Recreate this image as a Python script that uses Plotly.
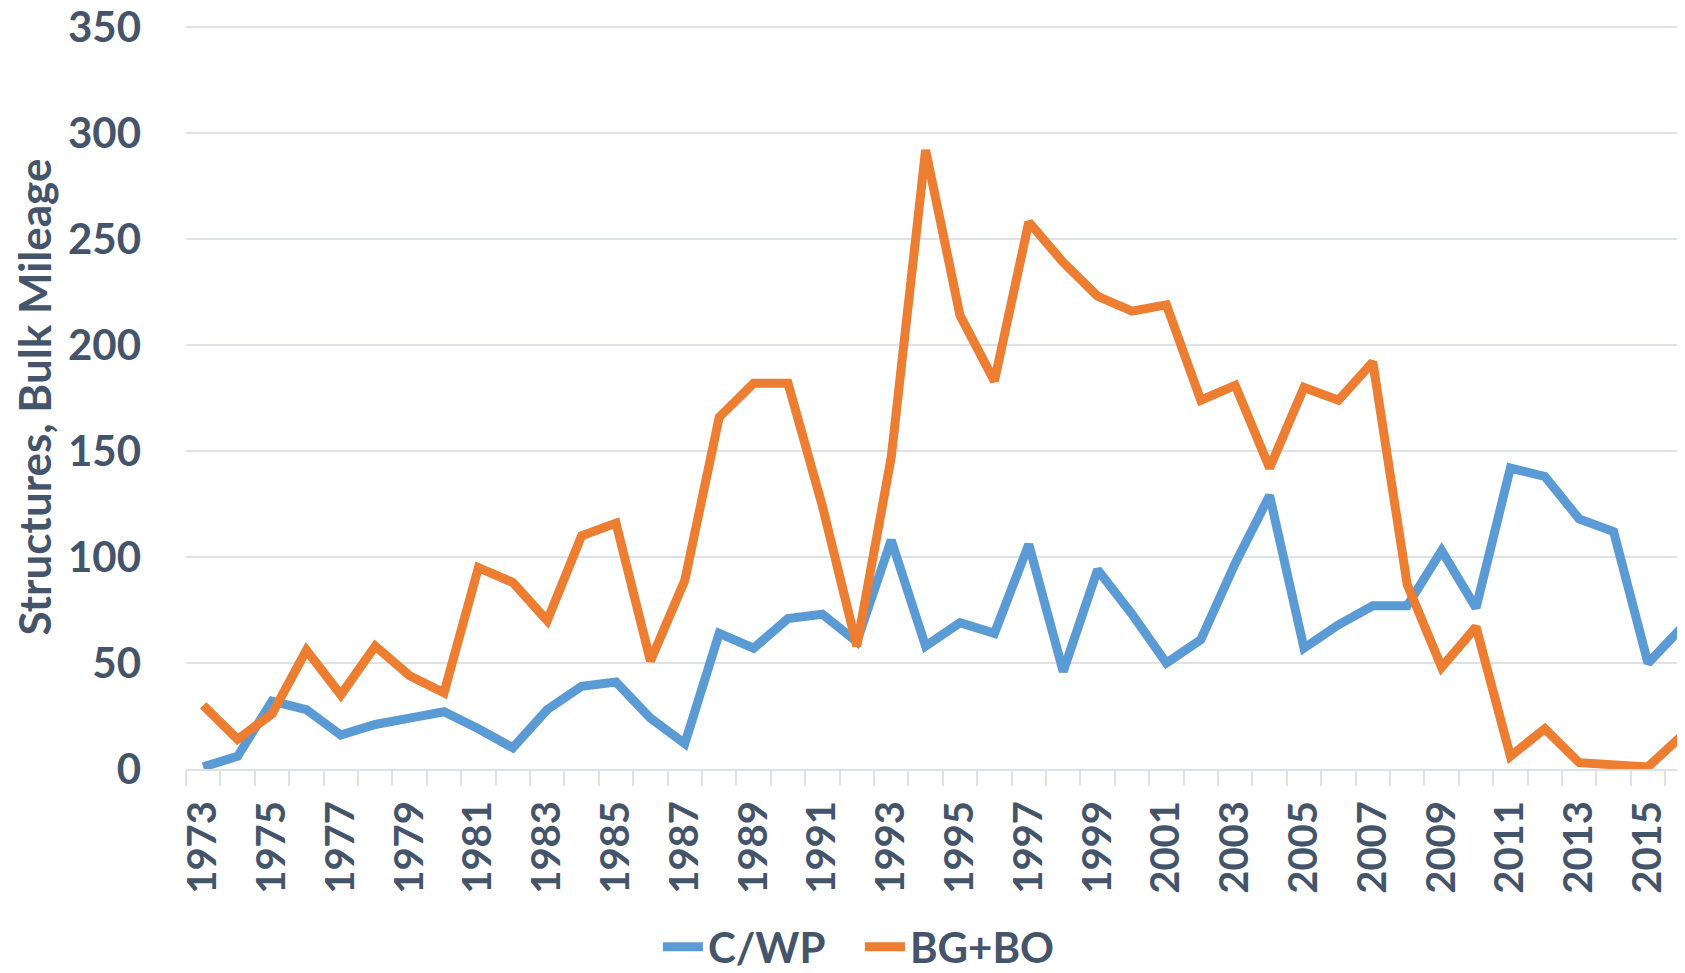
import plotly.graph_objects as go

years = list(range(1973, 2017))
cwp = [1, 6, 32, 28, 16, 21, 24, 27, 19, 10, 28, 39, 41, 24, 12, 64, 57, 71, 73, 60,
       108, 58, 69, 64, 106, 46, 94, 73, 50, 61, 97, 129, 57, 68, 77, 77, 103, 76,
       142, 138, 118, 112, 50, 67]
bgbo = [30, 14, 26, 56, 35, 58, 44, 36, 95, 88, 70, 110, 116, 51, 89, 166, 182, 182,
        124, 58, 147, 292, 214, 183, 258, 239, 223, 216, 219, 174, 181, 142, 180, 174,
        192, 87, 48, 67, 6, 19, 3, 2, 1, 16]
tick_years = list(range(1973, 2016, 2))
y_ticks = [0, 50, 100, 150, 200, 250, 300, 350]

TXT = "#44546A"
GRID = "#DEE2E8"
FONT = "Lato"

W, H = 1677, 965  # page body has an 8px margin in the 1685x973 window
L, T, B = 178, 17, 204
PX_PER_YEAR = 34.4

fig = go.Figure()
fig.add_trace(go.Scatter(x=years, y=cwp, mode="lines", name="C/WP",
                         line=dict(color="#5B9BD5", width=9)))
fig.add_trace(go.Scatter(x=years, y=bgbo, mode="lines", name="BG+BO",
                         line=dict(color="#ED7D31", width=9)))

fig.update_layout(
    width=W, height=H,
    margin=dict(l=L, r=0, t=T, b=B, autoexpand=False),
    paper_bgcolor="white", plot_bgcolor="white",
    font=dict(family=FONT, color=TXT, size=40, weight="bold"),
    showlegend=True,
    legend=dict(orientation="h", xref="container", yref="container",
                x=0.508, y=0.027, xanchor="center", yanchor="middle",
                font=dict(family=FONT, size=42, color=TXT, weight="bold"),
                itemwidth=40, entrywidth=147, entrywidthmode="pixels",
                tracegroupgap=0),
    xaxis=dict(
        automargin=False,
        range=[1972.5, 1972.5 + (W - L) / PX_PER_YEAR],
        tickmode="array", tickvals=tick_years, ticktext=[str(y) for y in tick_years],
        tickangle=-90, ticks="", showgrid=False, zeroline=False,
        showline=True, linecolor=GRID, linewidth=2,
        tickfont=dict(family=FONT, size=40, color=TXT, weight="bold"),
        ticklabelstandoff=14,
        minor=dict(tickmode="linear", tick0=1972.5, dtick=1, ticks="outside",
                   ticklen=15, tickwidth=2, tickcolor=GRID, showgrid=False),
    ),
    yaxis=dict(
        automargin=False,
        range=[0, 351], tickmode="array", tickvals=y_ticks,
        showgrid=True, gridcolor=GRID, gridwidth=2, zeroline=False,
        ticks="", ticklabelstandoff=44, ticklabeloverflow="allow",
        tickfont=dict(family=FONT, size=42, color=TXT, weight="bold"),
        title=dict(text="Structures, Bulk Mileage", standoff=11,
                   font=dict(family=FONT, size=44, color=TXT, weight="bold")),
    ),
)

fig.write_html("out.html")
